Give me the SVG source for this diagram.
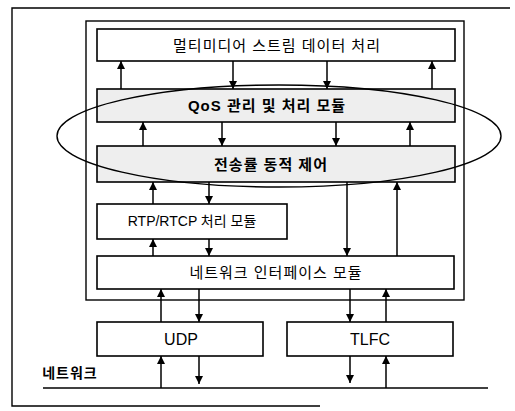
<svg xmlns="http://www.w3.org/2000/svg" width="515" height="411" viewBox="0 0 515 411">
  <style>
    .box { fill: #ffffff; stroke: #000; stroke-width: 1.6; }
    .shade { fill: #eeeeee; stroke: #000; stroke-width: 1.6; }
    .frame { fill: none; stroke: #000; stroke-width: 1.4; }
    .lbl { font-family: "Liberation Sans", "Noto Sans CJK KR", sans-serif; font-size: 15px; fill: #000; text-anchor: middle; dominant-baseline: central; letter-spacing: 1px; }
    .bold { font-weight: bold; }
    .wire { stroke: #000; stroke-width: 1.5; fill: none; }
    .dn { marker-end: url(#head); }
  </style>
  <defs>
    <marker id="head" viewBox="0 0 10 10" refX="10" refY="5" markerWidth="8" markerHeight="9" markerUnits="userSpaceOnUse" orient="auto">
      <path d="M0,0 L10,5 L0,10 Z" fill="#000"/>
    </marker>
  </defs>

  <!-- outer frame and system boundary -->
  <path class="frame" d="M510,8 H12 V406 H320"/>
  <rect class="frame" x="86" y="21" width="378" height="279"/>

  <g id="multimedia">
    <rect class="box" x="97" y="29" width="358" height="32"/>
    <text class="lbl" x="277" y="45">멀티미디어 스트림 데이터 처리</text>
  </g>
  <g id="qos">
    <rect class="shade" x="97" y="89" width="358" height="33"/>
    <text class="lbl bold" x="267" y="105">QoS 관리 및 처리 모듈</text>
  </g>
  <g id="rate-control">
    <rect class="shade" x="97" y="146" width="358" height="36"/>
    <text class="lbl bold" x="271" y="164">전송률 동적 제어</text>
  </g>
  <g id="rtp">
    <rect class="box" x="97" y="204" width="190" height="35"/>
    <text class="lbl" x="192" y="221" style="font-size:14px;letter-spacing:0">RTP/RTCP 처리 모듈</text>
  </g>
  <g id="net-if">
    <rect class="box" x="97" y="256" width="357" height="33"/>
    <text class="lbl" x="276" y="272">네트워크 인터페이스 모듈</text>
  </g>
  <g id="udp">
    <rect class="box" x="97" y="322" width="166" height="34"/>
    <text class="lbl" x="181" y="339" style="font-size:16px;letter-spacing:0">UDP</text>
  </g>
  <g id="tlfc">
    <rect class="box" x="287" y="322" width="166" height="34"/>
    <text class="lbl" x="370" y="339" style="font-size:16px;letter-spacing:0">TLFC</text>
  </g>
  <g id="network">
    <line class="wire" x1="43" y1="388" x2="488" y2="388"/>
    <text class="lbl" x="70" y="373" style="font-size:14px;font-weight:bold">네트워크</text>
  </g>

  <!-- QoS scope -->
  <ellipse id="qos-scope" cx="279" cy="136" rx="222" ry="51" fill="none" stroke="#000" stroke-width="1.4"/>

  <g id="connectors">
    <!-- multimedia <-> QoS -->
    <line class="wire dn" x1="121" y1="89" x2="121" y2="61"/>
    <line class="wire dn" x1="233" y1="61" x2="233" y2="89"/>
    <line class="wire dn" x1="327" y1="61" x2="327" y2="89"/>
    <line class="wire dn" x1="432" y1="89" x2="432" y2="61"/>
    <!-- QoS <-> rate control -->
    <line class="wire dn" x1="143" y1="146" x2="143" y2="122"/>
    <line class="wire dn" x1="222" y1="122" x2="222" y2="146"/>
    <line class="wire dn" x1="336" y1="122" x2="336" y2="146"/>
    <line class="wire dn" x1="410" y1="146" x2="410" y2="122"/>
    <!-- rate control <-> RTP / interface -->
    <line class="wire dn" x1="153" y1="204" x2="153" y2="182"/>
    <line class="wire dn" x1="209" y1="182" x2="209" y2="204"/>
    <line class="wire dn" x1="347" y1="182" x2="347" y2="256"/>
    <line class="wire dn" x1="397" y1="256" x2="397" y2="182"/>
    <!-- RTP <-> interface -->
    <line class="wire dn" x1="153" y1="256" x2="153" y2="239"/>
    <line class="wire dn" x1="209" y1="239" x2="209" y2="256"/>
    <!-- interface <-> UDP / TLFC -->
    <line class="wire dn" x1="161" y1="322" x2="161" y2="289"/>
    <line class="wire dn" x1="199" y1="289" x2="199" y2="322"/>
    <line class="wire dn" x1="350" y1="289" x2="350" y2="322"/>
    <line class="wire dn" x1="386" y1="322" x2="386" y2="289"/>
    <!-- UDP / TLFC <-> network -->
    <line class="wire dn" x1="161" y1="388" x2="161" y2="356"/>
    <line class="wire dn" x1="199" y1="356" x2="199" y2="384"/>
    <line class="wire dn" x1="350" y1="356" x2="350" y2="383"/>
    <line class="wire dn" x1="386" y1="388" x2="386" y2="356"/>
  </g>
</svg>
